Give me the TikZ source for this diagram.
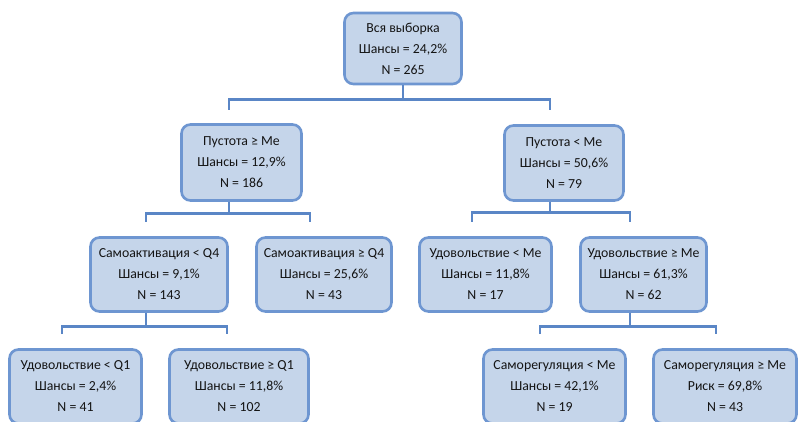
\documentclass[tikz,border=0pt]{standalone}
\usepackage{fontspec}
\setmainfont{Carlito}
\definecolor{boxfill}{HTML}{C5D5EA}
\definecolor{boxline}{HTML}{6E96D1}
\definecolor{connc}{HTML}{5A86C6}
\definecolor{txt}{HTML}{141414}
\begin{document}
\begin{tikzpicture}[x=1pt,y=-1pt,
 tbox/.style={draw=boxline, fill=boxfill, line width=2.6pt, rounded corners=9pt, align=center, inner sep=0pt, font=\fontsize{13.8}{21}\selectfont, text=txt},
 conn/.style={draw=connc, line width=2.8pt}]
\useasboundingbox (0,0) rectangle (801,422);
% nodes
\node[tbox, minimum width=117pt, minimum height=71pt] (root) at (403,48.5) {Вся выборка\\Шансы = 24,2\%\\N = 265};
\node[tbox, minimum width=120pt, minimum height=76pt] (p1l) at (241.5,162.5) {Пустота ≥ Me\\Шансы = 12,9\%\\N = 186};
\node[tbox, minimum width=119pt, minimum height=75pt] (p1r) at (564,163) {Пустота < Me\\Шансы = 50,6\%\\N = 79};
\node[tbox, minimum width=137pt, minimum height=74pt] (l2a) at (159,274.5) {Самоактивация < Q4\\Шансы = 9,1\%\\N = 143};
\node[tbox, minimum width=135pt, minimum height=74pt] (l2b) at (324,274.5) {Самоактивация ≥ Q4\\Шансы = 25,6\%\\N = 43};
\node[tbox, minimum width=132pt, minimum height=74pt] (r2a) at (485.5,274.5) {Удовольствие < Me\\Шансы = 11,8\%\\N = 17};
\node[tbox, minimum width=126pt, minimum height=74pt] (r2b) at (643.5,274.5) {Удовольствие ≥ Me\\Шансы = 61,3\%\\N = 62};
\node[tbox, minimum width=132pt, minimum height=74pt] (l3a) at (75.5,386.5) {Удовольствие < Q1\\Шансы = 2,4\%\\N = 41};
\node[tbox, minimum width=139pt, minimum height=74pt] (l3b) at (239,386.5) {Удовольствие ≥ Q1\\Шансы = 11,8\%\\N = 102};
\node[tbox, minimum width=142pt, minimum height=74pt] (r3a) at (554.5,386.5) {Саморегуляция < Me\\Шансы = 42,1\%\\N = 19};
\node[tbox, minimum width=143pt, minimum height=74pt] (r3b) at (725,386.5) {Саморегуляция ≥ Me\\Риск = 69,8\%\\N = 43};
% connector ends
\coordinate (j0l) at (229,110);
\coordinate (j0r) at (550,110);
\coordinate (j1a) at (146,222);
\coordinate (j1b) at (310,222);
\coordinate (j1c) at (472,222);
\coordinate (j1d) at (630,222);
\coordinate (j2a) at (62,334);
\coordinate (j2b) at (227,334);
\coordinate (j2c) at (540,334);
\coordinate (j2d) at (716,334);
% connectors
\draw[conn] (root.south) -- ++(0,14.5) coordinate (h0);
\draw[conn] (j0l) |- (h0) -| (j0r);
\draw[conn] (p1l.south -| j0l) -- ++(0,12) coordinate (h1);
\draw[conn] (j1a) |- (h1) -| (j1b);
\draw[conn] (p1r.south -| j0r) -- ++(0,11) coordinate (h2);
\draw[conn] (j1c) |- (h2) -| (j1d);
\draw[conn] (l2a.south -| j1a) -- ++(0,14) coordinate (h3);
\draw[conn] (j2a) |- (h3) -| (j2b);
\draw[conn] (r2b.south -| j1d) -- ++(0,14) coordinate (h4);
\draw[conn] (j2c) |- (h4) -| (j2d);
\end{tikzpicture}
\end{document}
